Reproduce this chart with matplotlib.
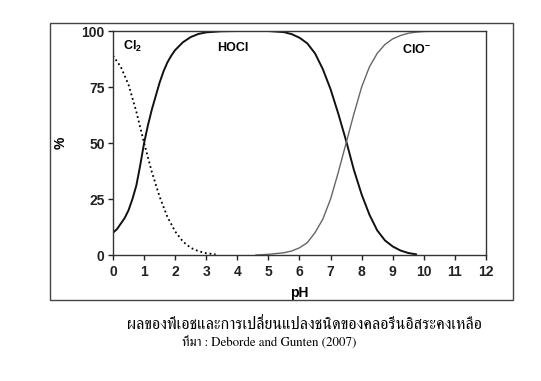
import matplotlib
matplotlib.use('Agg')
import matplotlib.pyplot as plt
from matplotlib.patches import Rectangle

# Cl2 (dotted)
ph_cl2 = [0, 0.25, 0.5, 0.75, 1, 1.25, 1.5, 1.75, 2, 2.25, 2.5, 2.75, 3, 3.3]
pct_cl2 = [89, 84, 76, 64, 50, 37, 26, 17, 10.5, 6, 3.2, 1.7, 0.8, 0.3]

# HOCl
ph_hocl = [0, 0.125, 0.25, 0.375, 0.5, 0.625, 0.75, 0.875, 1, 1.125, 1.25, 1.375, 1.5, 1.625,
           1.75, 1.875, 2, 2.25, 2.5, 2.75, 3, 3.5, 4, 5, 5.5, 5.75, 6, 6.25, 6.5, 6.75,
           7, 7.25, 7.5, 7.75, 8, 8.25, 8.5, 8.75, 9, 9.25, 9.5, 9.75]
pct_hocl = [10, 11.5, 14, 16.5, 20, 25, 31, 40, 50, 58, 65, 71, 77, 82,
            86, 89, 91.5, 95, 97.3, 98.7, 99.4, 99.9, 100, 100, 99.5, 98.6, 97, 94.5, 90, 83,
            74, 63, 51, 38, 27, 18, 11, 6.5, 3.8, 2, 0.9, 0.3]

# ClO-
ph_clo = [4.6, 5, 5.5, 5.75, 6, 6.25, 6.5, 6.75, 7, 7.25, 7.5, 7.75, 8, 8.25, 8.5,
          8.75, 9, 9.25, 9.5, 9.75, 10, 10.5]
pct_clo = [0, 0.3, 1, 1.8, 3.2, 5.5, 10, 16, 25, 37, 50, 63, 75, 84, 90,
           94, 96.5, 98, 99, 99.5, 99.8, 100]

x_ticks = list(range(0, 13))
y_ticks = [0, 25, 50, 75, 100]

caption = 'ผลของพีเอชและการเปลี่ยนแปลงชนิดของคลอรีนอิสระคงเหลือ'
source = 'ที่มา : Deborde and Gunten (2007)'

plt.rcParams['font.family'] = 'Liberation Sans'
plt.rcParams['mathtext.fontset'] = 'custom'
plt.rcParams['mathtext.rm'] = 'Liberation Sans:bold'
plt.rcParams['mathtext.bf'] = 'Liberation Sans:bold'

fig = plt.figure(figsize=(5.41, 3.81), dpi=100)
ax = fig.add_axes([0.2089, 0.3307, 0.8983 - 0.2089, 0.9186 - 0.3307])

ax.plot(ph_cl2, pct_cl2, color='black', linestyle=(0, (1, 1.6)), linewidth=1.3)
ax.plot(ph_hocl, pct_hocl, color='#111111', linewidth=1.4)
ax.plot(ph_clo, pct_clo, color='#666666', linewidth=1.0)

ax.set_xlim(0, 12)
ax.set_ylim(0, 100)
ax.set_xticks(x_ticks)
ax.set_yticks(y_ticks)
ax.tick_params(direction='out', length=3.5, width=1, labelsize=10, colors='#222222')
ax.tick_params(axis='x', pad=4)
ax.tick_params(axis='y', pad=2.5)
for lab in ax.get_xticklabels() + ax.get_yticklabels():
    lab.set_fontweight('bold')
for s in ax.spines.values():
    s.set_color('#333333')
    s.set_linewidth(1)

ax.set_xlabel('pH', fontsize=10, fontweight='bold', labelpad=5)
ax.set_ylabel('%', fontsize=10, fontweight='bold', labelpad=10)

ax.text(0.33, 93, r'Cl$_2$', fontsize=9, fontweight='bold', va='center')
ax.text(3.35, 92.5, 'HOCl', fontsize=9, fontweight='bold', va='center')
ax.text(9.3, 91.5, r'ClO$^{-}$', fontsize=9, fontweight='bold', va='center')

# outer frame
fig.patches.append(Rectangle((0.0924, 0.2126), 0.948 - 0.0924, 0.9396 - 0.2126,
                             transform=fig.transFigure, fill=False,
                             edgecolor='#444444', linewidth=1))

fig.text(0.562, 1 - 325 / 381, caption, family='FreeSerif', fontsize=11.7, ha='center', va='center')
fig.text(0.336, 1 - 342 / 381, source, family='FreeSerif', fontsize=9.4, ha='left', va='center')

fig.savefig('out.png', dpi=100)
